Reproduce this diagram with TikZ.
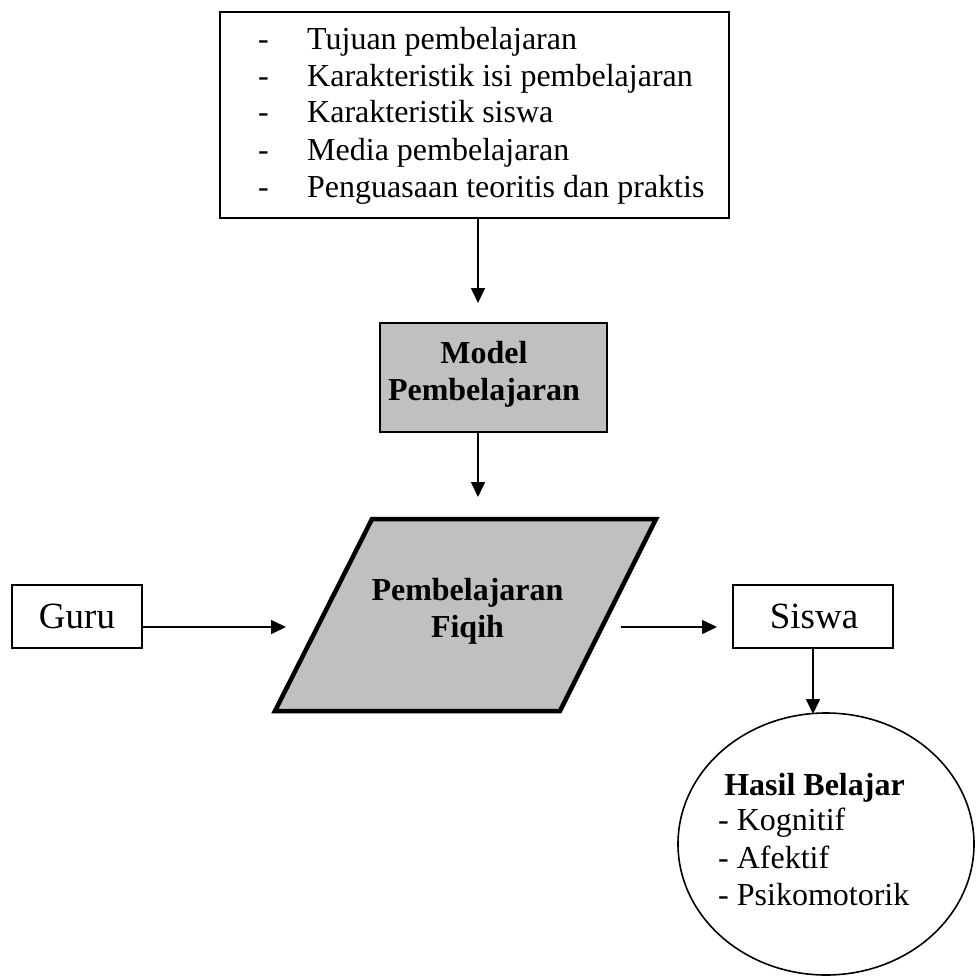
\documentclass[tikz,border=0pt]{standalone}
\usepackage{fontspec}
\setmainfont{Liberation Serif}
\usetikzlibrary{arrows.meta}
\definecolor{boxgray}{RGB}{192,192,192}
\begin{document}
\begin{tikzpicture}[x=1pt,y=-1pt,
  arr/.style={-{Triangle[length=15pt,width=14pt]}, line width=1.6pt},
  plainbox/.style={draw, line width=2pt, inner sep=0pt},
  txt/.style={font=\fontsize{32}{37}\selectfont, inner sep=0pt},
  bigtxt/.style={font=\fontsize{37}{42}\selectfont, inner sep=0pt},
  boldtxt/.style={font=\fontsize{32}{37}\selectfont\bfseries, inner sep=0pt}]
\useasboundingbox (0,0) rectangle (975,979);

% top box
\node[plainbox, minimum width=509pt, minimum height=206pt, anchor=north west] (top) at (219,11) {};
\foreach \i/\t/\yy in {1/Tujuan pembelajaran/50, 2/Karakteristik isi pembelajaran/87, 3/Karakteristik siswa/123, 4/Media pembelajaran/160, 5/Penguasaan teoritis dan praktis/197}{
  \node[txt, anchor=base west] (dash\i) at (258,\yy) {-};
  \node[txt, anchor=base west] (item\i) at (307,\yy) {\t};
}

% model box
\node[plainbox, fill=boxgray, minimum width=227pt, minimum height=109pt] (model) at (493.5,377.5) {};
\node[boldtxt, anchor=base] (modelA) at (484,363) {Model};
\node[boldtxt, anchor=base] (modelB) at (484,400) {Pembelajaran};

% parallelogram
\coordinate (p1) at (372,519);
\coordinate (p2) at (656,519);
\coordinate (p3) at (560,711);
\coordinate (p4) at (275,711);
\draw[line width=4.5pt, fill=boxgray, line join=miter] (p1) -- (p2) -- (p3) -- (p4) -- cycle;
\node[boldtxt, anchor=base] (fiqihA) at (467.5,600) {Pembelajaran};
\node[boldtxt, anchor=base] (fiqihB) at (467.5,637) {Fiqih};

% guru and siswa
\node[plainbox, minimum width=130pt, minimum height=63pt] (guru) at (77,616.5) {};
\node[bigtxt, anchor=base] (gurutxt) at (77,628) {Guru};
\node[plainbox, minimum width=160pt, minimum height=63pt] (siswa) at (813,616.5) {};
\node[bigtxt, anchor=base] (siswatxt) at (814,628) {Siswa};

% ellipse
\draw[line width=1.6pt] (826,844) ellipse [x radius=148pt, y radius=131pt];
\coordinate (elltop) at (813,714);
\node[boldtxt, anchor=base] (hasil) at (814.5,795) {Hasil Belajar};
\node[txt, anchor=base west] (k1) at (718,830) {- Kognitif};
\node[txt, anchor=base west] (k2) at (718,868) {- Afektif};
\node[txt, anchor=base west] (k3) at (718,905) {- Psikomotorik};

% arrows
\coordinate (a1end) at (478,303);
\coordinate (a2end) at (478,497);
\coordinate (gend) at (286,627);
\coordinate (sstart) at (621,627);
\coordinate (send) at (717,627);
\draw[arr] (top.south -| a1end) -- (a1end);
\draw[arr] (model.south -| a2end) -- (a2end);
\draw[arr] (guru.east |- gend) -- (gend);
\draw[arr] (sstart) -- (send);
\draw[arr] (siswa.south) -- (elltop);
\end{tikzpicture}
\end{document}
